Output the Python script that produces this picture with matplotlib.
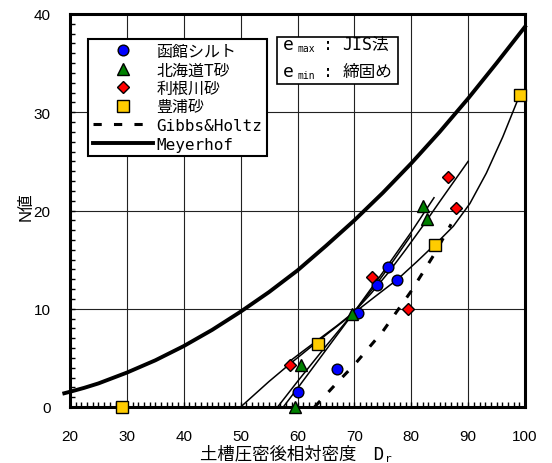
import numpy as np
import matplotlib
matplotlib.use('Agg')
import matplotlib.pyplot as plt
from matplotlib.lines import Line2D
from matplotlib.patches import Rectangle

plt.rcParams['font.family'] = ['Liberation Sans', 'Noto Sans CJK JP']
JP = ['DejaVu Sans Mono', 'Noto Sans CJK JP']

# measured points
blue_x = [60.0, 66.9, 70.7, 74.0, 75.9, 77.5]
blue_y = [1.5, 3.9, 9.6, 12.4, 14.3, 12.9]
green_x = [59.5, 60.6, 69.6, 82.0, 82.8]
green_y = [0.0, 4.3, 9.5, 20.5, 19.1]
red_x = [58.7, 73.1, 79.5, 86.5, 87.8]
red_y = [4.3, 13.2, 10.0, 23.4, 20.3]
yellow_x = [29.2, 63.6, 84.2, 99.1]
yellow_y = [0.0, 6.4, 16.5, 31.8]

# fitted curves
blue_fit_x = [56.5, 60, 65, 70, 74, 77, 80]
blue_fit_y = [0.0, 2.6, 6.2, 9.7, 12.6, 15.0, 17.5]
green_fit_x = [57.5, 60, 65, 70, 75, 80, 84]
green_fit_y = [0.0, 1.9, 5.8, 9.7, 13.7, 17.8, 21.3]
red_fit_x = [58.5, 61, 64, 67, 70, 73, 76, 79, 82, 85, 90]
red_fit_y = [4.6, 5.7, 7.0, 8.3, 9.7, 11.6, 13.7, 16.0, 18.4, 20.9, 25.0]
yellow_fit_x = [50, 55, 58.7, 63.6, 70, 74, 77.6, 81, 85, 87.4, 90.3, 93.2, 96.1, 99.1]
yellow_fit_y = [0.0, 2.6, 4.4, 6.7, 9.6, 11.4, 13.0, 14.8, 17.0, 18.4, 20.7, 23.8, 27.5, 31.8]

gh_x = [63, 67, 70, 75, 80, 84, 87]
gh_y = [0.0, 2.5, 4.3, 7.7, 11.8, 15.5, 18.6]

mey_x = [19, 20, 22.5, 25, 27.5, 30, 35, 40, 45, 50, 55, 60, 65, 70, 75, 80, 85, 90, 95, 100]
mey_y = [1.4, 1.55, 1.95, 2.4, 2.95, 3.5, 4.75, 6.2, 7.85, 9.7, 11.7, 13.9, 16.4, 19.0,
         21.8, 24.8, 28.0, 31.4, 35.0, 38.7]

fig = plt.figure(figsize=(5.52, 4.64), dpi=100)
ax = fig.add_axes([70 / 552, 56 / 464, 455 / 552, 393 / 464])

ax.set_xlim(20, 100)
ax.set_ylim(0, 40)
ax.set_xticks(np.arange(20, 101, 10))
ax.set_yticks(np.arange(0, 41, 10))
ax.set_xticks(np.arange(20, 101, 1), minor=True)
ax.set_yticks(np.arange(0, 41, 1), minor=True)
ax.grid(True, which='major', color='#222222', lw=0.8)
ax.tick_params(which='both', direction='in', top=False, right=False,
               labelsize=11, length=3.5, width=1)
ax.tick_params(axis='x', pad=16)
ax.tick_params(axis='y', pad=14)
for s in ax.spines.values():
    s.set_linewidth(2.2)
    s.set_zorder(5)

thin = dict(color='k', lw=1.1, zorder=3)
ax.plot(blue_fit_x, blue_fit_y, **thin)
ax.plot(green_fit_x, green_fit_y, **thin)
ax.plot(red_fit_x, red_fit_y, **thin)
ax.plot(yellow_fit_x, yellow_fit_y, **thin)
ax.plot(gh_x, gh_y, color='k', lw=2.2, ls=(0, (2.7, 4.0)), zorder=3)
ax.plot(mey_x, mey_y, color='k', lw=2.8, zorder=3, clip_on=False)

mk = dict(ls='none', mec='k', mew=1.0, zorder=6, clip_on=False)
ax.plot(blue_x, blue_y, marker='o', ms=7.7, mfc='#0000ff', **mk)
ax.plot(green_x, green_y, marker='^', ms=8.0, mfc='#008000', **mk)
ax.plot(red_x, red_y, marker='D', ms=6.0, mfc='#ff0000', **mk)
ax.plot(yellow_x, yellow_y, marker='s', ms=8.3, mfc='#ffcc00', **mk)

handles = [
    Line2D([], [], ls='none', marker='o', ms=7.7, mfc='#0000ff', mec='k'),
    Line2D([], [], ls='none', marker='^', ms=8.0, mfc='#008000', mec='k'),
    Line2D([], [], ls='none', marker='D', ms=6.0, mfc='#ff0000', mec='k'),
    Line2D([], [], ls='none', marker='s', ms=8.3, mfc='#ffcc00', mec='k'),
    Line2D([], [], color='k', lw=2.2, ls=(0, (2.7, 4.0))),
    Line2D([], [], color='k', lw=2.8),
]
labels = ['函館シルト', '北海道T砂', '利根川砂', '豊浦砂', 'Gibbs&Holtz', 'Meyerhof']
leg = ax.legend(handles, labels, loc='upper left', bbox_to_anchor=(0.039, 0.936),
                borderaxespad=0, fancybox=False, framealpha=1, edgecolor='k',
                handlelength=3.8, handletextpad=0.2, labelspacing=0.22,
                borderpad=0.3, prop={'family': JP, 'size': 11.5})
leg.get_frame().set_linewidth(1.5)
leg.set_zorder(7)

# e_max / e_min box
ax.add_patch(Rectangle((0.455, 0.822), 0.266, 0.119, transform=ax.transAxes,
                       fill=True, fc='white', ec='k', lw=1.2, zorder=7, clip_on=False))
for yy, sub, txt in [(0.9245, 'max', 'JIS法'), (0.8557, 'min', '締固め')]:
    ax.text(0.468, yy, 'e', transform=ax.transAxes, family=JP, size=13,
            va='center', ha='left', zorder=8)
    ax.text(0.501, yy - 0.012, sub, transform=ax.transAxes, family=JP, size=7,
            va='center', ha='left', zorder=8)
    ax.text(0.567, yy, ':', transform=ax.transAxes, family=JP, size=12,
            va='center', ha='center', zorder=8)
    ax.text(0.598, yy, txt, transform=ax.transAxes, family=JP, size=12,
            va='center', ha='left', zorder=8)

fig.text(384 / 552, 1 - 454 / 464, '土槽圧密後相対密度　D', family=JP, size=12.5,
         ha='right', va='center')
fig.text(385 / 552, 1 - 459 / 464, 'r', family=JP, size=8, ha='left', va='center')
fig.text(26 / 552, 1 - 207 / 464, 'N値', family=['Liberation Sans', 'Noto Sans CJK JP'],
         size=12, rotation=90, ha='center', va='center')

fig.savefig('out.png', dpi=100)
